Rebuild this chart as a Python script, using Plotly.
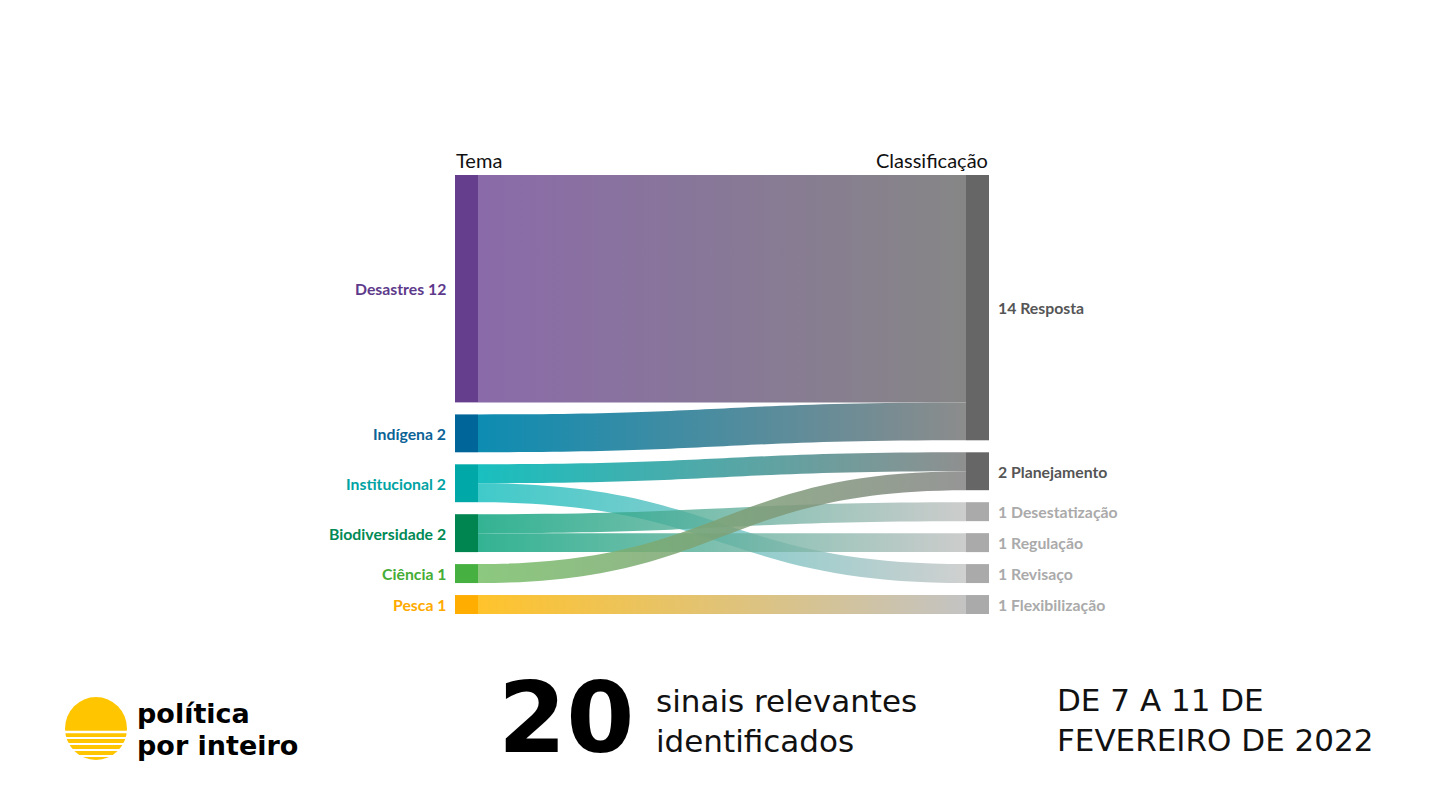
import json
import plotly.graph_objects as go

# ---------------- data ----------------
temas = ["Desastres", "Indígena", "Institucional", "Biodiversidade", "Ciência", "Pesca"]
classes = ["Resposta", "Planejamento", "Desestatização", "Regulação", "Revisaço", "Flexibilização"]

link_source = ["Desastres", "Indígena", "Institucional", "Institucional",
               "Biodiversidade", "Biodiversidade", "Ciência", "Pesca"]
link_target = ["Resposta", "Resposta", "Planejamento", "Revisaço",
               "Desestatização", "Regulação", "Planejamento", "Flexibilização"]
link_value = [12, 2, 1, 1, 1, 1, 1, 1]

total_sinais = 20
logo_lines = ["política", "por inteiro"]
subtitle = ["sinais relevantes", "identificados"]
periodo = ["DE 7 A 11 DE", "FEVEREIRO DE 2022"]

# ---------------- styles ----------------
tema_node_colors = ["#653f8e", "#00669a", "#00a8a8", "#008550", "#46b040", "#ffad00"]
tema_label_colors = ["#5e3a8c", "#0b6396", "#00a3a3", "#008a55", "#45ad35", "#ffaa00"]
tema_link_colors = ["#8a6aa9", "#0086ae", "#00b8b8", "#00a078", "#78bf68", "#ffc020"]
class_node_colors = ["#666666", "#666666", "#aaaaaa", "#aaaaaa", "#aaaaaa", "#aaaaaa"]
class_label_colors = ["#555555", "#555555", "#aaaaaa", "#aaaaaa", "#aaaaaa", "#aaaaaa"]
class_link_colors = ["#868686", "#838383", "#c0c0c0", "#c0c0c0", "#c0c0c0", "#c0c0c0"]
link_alpha = [1.0, 0.95, 0.9, 0.75, 0.8, 0.8, 0.85, 0.95]

FIG_W, FIG_H = 1440, 810
OFF = 8  # page offset of the plot in the browser


def px(x):
    return (x - OFF) / FIG_W


def py(y):
    return 1 - (y - OFF) / FIG_H


X0, X1 = 455, 989          # pixel extents of the sankey in the page
Y0, Y1 = 175, 614
THICK, PAD = 23, 12

dom_w = X1 - X0
dom_h = Y1 - Y0

nodes = temas + classes
idx = {n: i for i, n in enumerate(nodes)}

tema_tot = [sum(v for s, v in zip(link_source, link_value) if s == t) for t in temas]
class_tot = [sum(v for s, v in zip(link_target, link_value) if s == c) for c in classes]

ky = (dom_h - (len(temas) - 1) * PAD) / sum(tema_tot)


def centers(totals):
    out = []
    acc = 0.0
    for i, v in enumerate(totals):
        out.append(acc + i * PAD + v * ky / 2)
        acc += v * ky
    return out


tema_c = centers(tema_tot)
class_c = centers(class_tot)

node_x = [THICK / 2 / dom_w] * len(temas) + [1 - THICK / 2 / dom_w] * len(classes)
node_y = [c / dom_h for c in tema_c] + [c / dom_h for c in class_c]


def hex_rgba(h, a):
    h = h.lstrip("#")
    return "rgba(%d,%d,%d,%.2f)" % (int(h[0:2], 16), int(h[2:4], 16), int(h[4:6], 16), a)


def mix(h1, h2):
    a = [int(h1.lstrip("#")[i:i + 2], 16) for i in (0, 2, 4)]
    b = [int(h2.lstrip("#")[i:i + 2], 16) for i in (0, 2, 4)]
    return "#%02x%02x%02x" % tuple((x + y) // 2 for x, y in zip(a, b))


link_start = [tema_link_colors[temas.index(s)] for s in link_source]
link_end = [class_link_colors[classes.index(t)] for t in link_target]
link_colors = [hex_rgba(mix(s, e), a) for s, e, a in zip(link_start, link_end, link_alpha)]

fig = go.Figure(go.Sankey(
    arrangement="fixed",
    domain=dict(x=[px(X0), px(X1)], y=[py(Y1), py(Y0)]),
    node=dict(
        label=nodes,
        x=node_x, y=node_y,
        thickness=THICK, pad=PAD,
        color=tema_node_colors + class_node_colors,
        line=dict(width=0),
    ),
    link=dict(
        source=[idx[s] for s in link_source],
        target=[idx[t] for t in link_target],
        value=link_value,
        color=link_colors,
        line=dict(width=0),
    ),
    textfont=dict(color="rgba(0,0,0,0)", size=1),
))

LABEL_FONT = "Lato"
ann = []
for t, v, c, col in zip(temas, tema_tot, tema_c, tema_label_colors):
    ann.append(dict(x=px(X0 - 7), y=py(Y0 + c), xref="paper", yref="paper",
                    text=f"<b>{t} {v}</b>", showarrow=False, xanchor="right", yanchor="middle",
                    font=dict(family=LABEL_FONT, size=15.8, color=col)))
for t, v, c, col in zip(classes, class_tot, class_c, class_label_colors):
    ann.append(dict(x=px(X1 + 7), y=py(Y0 + c), xref="paper", yref="paper",
                    text=f"<b>{v} {t}</b>", showarrow=False, xanchor="left", yanchor="middle",
                    font=dict(family=LABEL_FONT, size=15.8, color=col)))

ann.append(dict(x=px(X0 - 1), y=py(160), xref="paper", yref="paper", text="Tema",
                showarrow=False, xanchor="left", yanchor="middle",
                font=dict(family="Lato", size=20, color="#111111")))
ann.append(dict(x=px(X1 + 1), y=py(160), xref="paper", yref="paper", text="Classificação",
                showarrow=False, xanchor="right", yanchor="middle",
                font=dict(family="Lato", size=20, color="#111111")))

# footer
ann.append(dict(x=px(496), y=py(718), xref="paper", yref="paper", text=str(total_sinais),
                showarrow=False, xanchor="left", yanchor="middle",
                font=dict(family="DejaVu Sans", size=98, color="#000000", weight=900)))
ann.append(dict(x=px(654), y=py(721), xref="paper", yref="paper",
                text="<br>".join(subtitle),
                showarrow=False, xanchor="left", yanchor="middle", align="left",
                font=dict(family="DejaVu Sans", size=31, color="#111111")))
ann.append(dict(x=px(1055), y=py(720), xref="paper", yref="paper",
                text="<br>".join(periodo),
                showarrow=False, xanchor="left", yanchor="middle", align="left",
                font=dict(family="DejaVu Sans", size=31, color="#111111")))
for line, yc in zip(logo_lines, [713, 745]):
    ann.append(dict(x=px(135), y=py(yc), xref="paper", yref="paper",
                    text=f"<b>{line}</b>", showarrow=False, xanchor="left", yanchor="middle",
                    align="left",
                    font=dict(family="DejaVu Sans", size=27, color="#000000")))

shapes = [dict(type="circle", xref="paper", yref="paper",
               x0=px(65), x1=px(127), y0=py(760), y1=py(697),
               fillcolor="#ffc600", line=dict(width=0))]
for yy, w in zip([732, 738, 744, 750, 756], [2.6, 2.2, 2.2, 2.2, 2.2]):
    shapes.append(dict(type="line", xref="paper", yref="paper",
                       x0=px(60), x1=px(132), y0=py(yy), y1=py(yy),
                       line=dict(color="#ffffff", width=w)))

fig.update_layout(
    width=FIG_W, height=FIG_H,
    margin=dict(l=0, r=0, t=0, b=0),
    paper_bgcolor="#ffffff", plot_bgcolor="#ffffff",
    annotations=ann, shapes=shapes,
    showlegend=False,
)

# horizontal colour gradient along each link (source colour -> target colour)
js = """
var gd = document.getElementById('{plot_id}');
var STARTS = __STARTS__, ENDS = __ENDS__;
function applyGrad(){
  if(!gd) return;
  var links = gd.querySelectorAll('path.sankey-link');
  if(!links.length) return;
  var ns = 'http://www.w3.org/2000/svg';
  var svg = links[0].ownerSVGElement;
  var defs = svg.querySelector('defs.sk-grads');
  if(!defs){ defs = document.createElementNS(ns, 'defs'); defs.setAttribute('class', 'sk-grads'); svg.insertBefore(defs, svg.firstChild); }
  links.forEach(function(el, k){
    var d = el.__data__;
    var i = (d && d.link && d.link.pointNumber !== undefined) ? d.link.pointNumber : k;
    var id = 'skgrad' + i;
    if(!document.getElementById(id)){
      var g = document.createElementNS(ns, 'linearGradient');
      g.setAttribute('id', id);
      g.setAttribute('x1', '0'); g.setAttribute('x2', '1');
      g.setAttribute('y1', '0'); g.setAttribute('y2', '0');
      var s1 = document.createElementNS(ns, 'stop');
      s1.setAttribute('offset', '0'); s1.setAttribute('stop-color', STARTS[i]);
      var s2 = document.createElementNS(ns, 'stop');
      s2.setAttribute('offset', '1'); s2.setAttribute('stop-color', ENDS[i]);
      g.appendChild(s1); g.appendChild(s2);
      defs.appendChild(g);
    }
    el.style.fill = 'url(#' + id + ')';
  });
}
applyGrad();
setTimeout(applyGrad, 50);
setTimeout(applyGrad, 300);
setTimeout(applyGrad, 1000);
""".replace("__STARTS__", json.dumps(link_start)).replace("__ENDS__", json.dumps(link_end))

fig.write_html("out.html", post_script=js)
